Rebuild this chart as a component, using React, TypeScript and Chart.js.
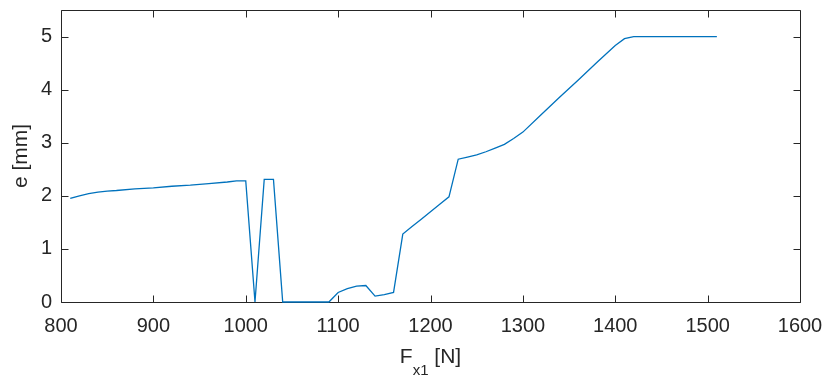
import React, { useEffect, useRef } from "react";
import { Chart, registerables } from "chart.js";

Chart.register(...registerables);

// Data
const forceN: number[] = [
  810, 820, 830, 840, 850, 860, 880, 900, 920, 940, 960, 980, 990, 1000,
  1010, 1020, 1030, 1040, 1050, 1060, 1070, 1080, 1090,
  1100, 1110, 1120, 1130, 1140, 1150, 1160,
  1170, 1180, 1190, 1200, 1210, 1220,
  1230, 1240, 1250, 1260, 1270, 1280, 1290, 1300,
  1320, 1340, 1360, 1380, 1400, 1410, 1420, 1440, 1460, 1480, 1500, 1510,
];
const eMm: number[] = [
  1.95, 2.0, 2.04, 2.07, 2.09, 2.1, 2.13, 2.15, 2.18, 2.2, 2.23, 2.26, 2.28, 2.28,
  0, 2.31, 2.31, 0, 0, 0, 0, 0, 0,
  0.18, 0.25, 0.3, 0.31, 0.11, 0.14, 0.18,
  1.28, 1.42, 1.56, 1.7, 1.84, 1.98,
  2.69, 2.73, 2.77, 2.83, 2.9, 2.97, 3.08, 3.2,
  3.53, 3.86, 4.18, 4.51, 4.83, 4.96, 5.0, 5.0, 5.0, 5.0, 5.0, 5.0,
];
const xTicks: number[] = [800, 900, 1000, 1100, 1200, 1300, 1400, 1500, 1600];
const yTicks: number[] = [0, 1, 2, 3, 4, 5];
const yTitle = "e [mm]";
const xTitleMain = "F";
const xTitleSub = "x1";
const xTitleTail = " [N]";

const FONT = "'Liberation Sans', Arial, Helvetica, sans-serif";
const AXIS_COLOR = "#262626";
const LINE_COLOR = "#0072BD";

export default function App() {
  const ref = useRef<HTMLCanvasElement | null>(null);

  useEffect(() => {
    document.body.style.margin = "0";
    const canvas = ref.current;
    if (!canvas) return;

    const axesPlugin = {
      id: "matlabAxes",
      beforeDatasetsDraw(chart: any) {
        const { ctx, chartArea: a, scales } = chart;
        const xs = scales.x;
        const ys = scales.y;
        ctx.save();
        ctx.strokeStyle = AXIS_COLOR;
        ctx.lineWidth = 1;
        const L = Math.round(a.left) + 0.5;
        const R = Math.round(a.right) + 0.5;
        const T = Math.round(a.top) + 0.5;
        const B = Math.round(a.bottom) + 0.5;
        ctx.beginPath();
        ctx.rect(L, T, R - L, B - T);
        const tl = 7;
        for (const v of xTicks) {
          const px = Math.round(xs.getPixelForValue(v)) + 0.5;
          ctx.moveTo(px, B);
          ctx.lineTo(px, B - tl);
          ctx.moveTo(px, T);
          ctx.lineTo(px, T + tl);
        }
        for (const v of yTicks) {
          const py = Math.round(ys.getPixelForValue(v)) + 0.5;
          ctx.moveTo(L, py);
          ctx.lineTo(L + tl, py);
          ctx.moveTo(R, py);
          ctx.lineTo(R - tl, py);
        }
        ctx.stroke();
        ctx.restore();
      },
      afterDraw(chart: any) {
        const { ctx, chartArea: a } = chart;
        ctx.save();
        ctx.fillStyle = AXIS_COLOR;
        // y title
        ctx.save();
        ctx.translate(21, (a.top + a.bottom) / 2);
        ctx.rotate(-Math.PI / 2);
        ctx.font = `21px ${FONT}`;
        ctx.textAlign = "center";
        ctx.textBaseline = "middle";
        ctx.fillText(yTitle, 0, 0);
        ctx.restore();
        // x title with subscript
        ctx.textAlign = "left";
        ctx.textBaseline = "alphabetic";
        const mainFont = `21px ${FONT}`;
        const subFont = `15px ${FONT}`;
        ctx.font = mainFont;
        const w1 = ctx.measureText(xTitleMain).width;
        const w3 = ctx.measureText(xTitleTail).width;
        ctx.font = subFont;
        const w2 = ctx.measureText(xTitleSub).width;
        const total = w1 + w2 + w3;
        let x = (a.left + a.right) / 2 - total / 2;
        const base = 363;
        ctx.font = mainFont;
        ctx.fillText(xTitleMain, x, base);
        x += w1;
        ctx.font = subFont;
        ctx.fillText(xTitleSub, x, base + 12);
        x += w2;
        ctx.font = mainFont;
        ctx.fillText(xTitleTail, x, base);
        ctx.restore();
      },
    };

    const chart = new Chart(canvas, {
      type: "line",
      data: {
        labels: forceN,
        datasets: [
          {
            data: forceN.map((f, i) => ({ x: f, y: eMm[i] })),
            borderColor: LINE_COLOR,
            backgroundColor: LINE_COLOR,
            borderWidth: 1.3,
            pointRadius: 0,
            tension: 0,
            fill: false,
            clip: 4,
          },
        ],
      },
      options: {
        animation: false,
        responsive: false,
        maintainAspectRatio: false,
        devicePixelRatio: 1,
        layout: { padding: { top: 10, right: 26, left: 0, bottom: 0 } },
        plugins: {
          legend: { display: false },
          tooltip: { enabled: false },
          title: { display: false },
        },
        scales: {
          x: {
            type: "linear",
            min: 800,
            max: 1600,
            afterBuildTicks: (s: any) => {
              s.ticks = xTicks.map((v) => ({ value: v }));
            },
            afterFit: (s: any) => {
              s.height = 74;
              s.paddingLeft = 0;
              s.paddingRight = 0;
              s.paddingTop = 0;
              s.paddingBottom = 0;
            },
            grid: { display: false, drawTicks: false },
            border: { display: false },
            ticks: {
              color: AXIS_COLOR,
              font: { family: FONT, size: 20 },
              padding: 12,
              maxRotation: 0,
              autoSkip: false,
              callback: (v: any) => String(v),
            },
          },
          y: {
            type: "linear",
            min: 0,
            max: 5.5,
            afterBuildTicks: (s: any) => {
              s.ticks = yTicks.map((v) => ({ value: v }));
            },
            afterFit: (s: any) => {
              s.width = 61;
              s.paddingLeft = 0;
              s.paddingRight = 0;
              s.paddingTop = 0;
              s.paddingBottom = 0;
            },
            grid: { display: false, drawTicks: false },
            border: { display: false },
            ticks: {
              color: AXIS_COLOR,
              font: { family: FONT, size: 20 },
              padding: 9,
              autoSkip: false,
              callback: (v: any) => String(v),
            },
          },
        },
      },
      plugins: [axesPlugin],
    } as any);

    return () => chart.destroy();
  }, []);

  return (
    <div style={{ width: 826, height: 376, background: "#fff" }}>
      <canvas ref={ref} width={826} height={376} style={{ display: "block" }} />
    </div>
  );
}
